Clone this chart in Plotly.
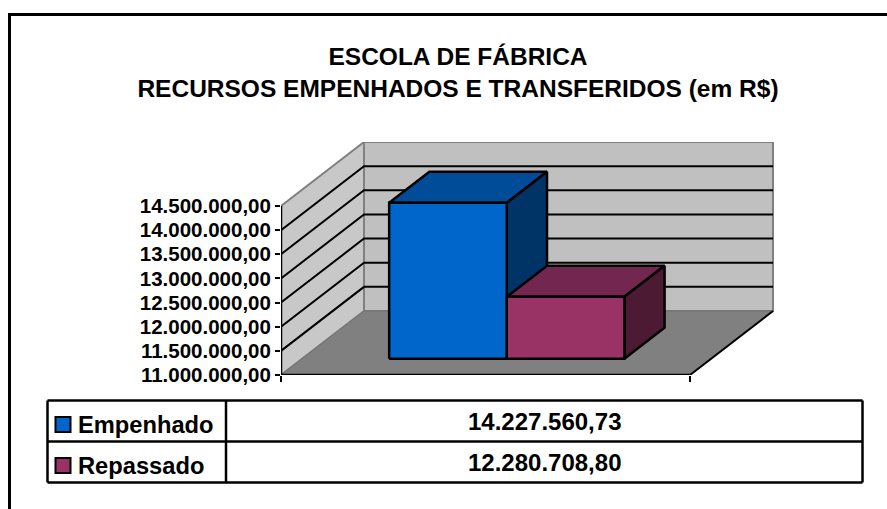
import plotly.graph_objects as go

# ---- data ----
title_lines = ["ESCOLA DE FÁBRICA", "RECURSOS EMPENHADOS E TRANSFERIDOS (em R$)"]
series_names = ["Empenhado", "Repassado"]
series_values = [14227560.73, 12280708.80]
tick_values = [11000000, 11500000, 12000000, 12500000, 13000000, 13500000, 14000000, 14500000]

# ---- style ----
W, H = 887, 509
front_colors = ["#0066CC", "#993366"]
top_colors = ["#004C99", "#732650"]
side_colors = ["#003366", "#4D1A33"]
FONT = "Liberation Sans, Arial, sans-serif"

# plot box in pixels: front-left-bottom corner to back-right-top corner
LEFT, RIGHT, TOP, BOTTOM = 281, 774, 142, 375
SLOT_PX = 409            # width of the single category
VAL_PX = 169             # height of the value range
DEPTH_X = 83 / SLOT_PX   # oblique depth, in slot units
VMIN, VMAX = tick_values[0], tick_values[-1]
DEPTH_Y = 64 / VAL_PX * (VMAX - VMIN)  # oblique depth, in value units
BAR_W = 0.2875
BAR_START = 0.2127
BAR_Z0, BAR_Z1 = 0.255, 0.74


def fmt(v):
    return f"{v:,.2f}".replace(",", "_").replace(".", ",").replace("_", ".")


def proj(slot, value, z):
    return slot + z * DEPTH_X, value + z * DEPTH_Y


def poly(points, fill=None, line="#000000", width=2.5):
    pts = [proj(*p) for p in points]
    xs = [p[0] for p in pts]
    ys = [p[1] for p in pts]
    kw = dict(fill="toself", fillcolor=fill) if fill else {}
    if fill:
        xs.append(xs[0])
        ys.append(ys[0])
    return go.Scatter(x=xs, y=ys, mode="lines", line=dict(color=line, width=width),
                      hoverinfo="skip", showlegend=False, cliponaxis=False, **kw)


fig = go.Figure()

# walls and floor
fig.add_trace(poly([(0, VMIN, 0), (0, VMAX, 0), (0, VMAX, 1), (0, VMIN, 1)], "#C8C8C8", "#808080", 2))
fig.add_trace(poly([(0, VMIN, 1), (0, VMAX, 1), (1, VMAX, 1), (1, VMIN, 1)], "#C0C0C0", "#808080", 2))
fig.add_trace(poly([(0, VMIN, 0), (1, VMIN, 0), (1, VMIN, 1), (0, VMIN, 1)], "#808080", "#707070", 1))
fig.add_trace(poly([(1, VMIN, 0), (1, VMIN, 1)], None, "#000000", 2))

# gridlines
for v in tick_values[1:-1]:
    fig.add_trace(poly([(0, v, 0), (0, v, 1), (1, v, 1)], None, "#000000", 2))

# axis lines
fig.add_trace(poly([(0, VMAX, 0), (0, VMIN, 0), (1, VMIN, 0)], None, "#000000", 2.5))

# bars
for i, v in enumerate(series_values):
    a = BAR_START + i * BAR_W
    b = a + BAR_W
    fig.add_trace(poly([(a, v, BAR_Z0), (b, v, BAR_Z0), (b, v, BAR_Z1), (a, v, BAR_Z1)], top_colors[i]))
    fig.add_trace(poly([(b, VMIN, BAR_Z0), (b, v, BAR_Z0), (b, v, BAR_Z1), (b, VMIN, BAR_Z1)], side_colors[i]))
    fig.add_trace(poly([(a, VMIN, BAR_Z0), (a, v, BAR_Z0), (b, v, BAR_Z0), (b, VMIN, BAR_Z0)], front_colors[i]))

# ---- table and frame, in page coordinates ----
px = lambda x: x / W
py = lambda y: 1 - y / H
shapes = []


def line(x0, y0, x1, y1, width=2.5):
    shapes.append(dict(type="line", xref="paper", yref="paper", x0=px(x0), y0=py(y0), x1=px(x1), y1=py(y1),
                       line=dict(color="#000000", width=width)))


line(9.5, 14.5, W, 14.5, 3)
line(9.5, 13, 9.5, H, 3)
TX0, TX1, TXC = 47.5, 862.5, 226
ROWS = [400.5, 441.5, 482.5]
for y in ROWS:
    line(TX0, y, TX1, y)
for x in (TX0, TXC, TX1):
    line(x, ROWS[0], x, ROWS[-1])

annotations = []
for i, name in enumerate(series_names):
    yc = (ROWS[i] + ROWS[i + 1]) / 2
    kc = yc + 3.5
    shapes.append(dict(type="rect", xref="paper", yref="paper", x0=px(55.5), x1=px(70.5), y0=py(kc - 7.5), y1=py(kc + 7.5),
                       fillcolor=front_colors[i], line=dict(color="#000000", width=2)))
    annotations.append(dict(xref="paper", yref="paper", x=px(76), y=py(yc + 4), text=name, showarrow=False,
                            xanchor="left", yanchor="middle", font=dict(family=FONT, size=23.7, color="#000000", weight="bold")))
    annotations.append(dict(xref="paper", yref="paper", x=px(544.5), y=py(yc), text=fmt(series_values[i]), showarrow=False,
                            xanchor="center", yanchor="middle", font=dict(family=FONT, size=24, color="#000000", weight="bold")))

fig.update_layout(
    width=W, height=H, autosize=False,
    margin=dict(l=0, r=0, t=0, b=0, pad=0, autoexpand=False),
    paper_bgcolor="#FFFFFF", plot_bgcolor="rgba(0,0,0,0)",
    showlegend=False, shapes=shapes, annotations=annotations,
    title=dict(text="<br>".join(title_lines), x=458 / W, xanchor="center", y=py(65), yanchor="middle",
               font=dict(family=FONT, size=24.5, color="#000000", weight="bold")),
    xaxis=dict(domain=[px(LEFT), px(RIGHT)], range=[0, (RIGHT - LEFT) / SLOT_PX], automargin=False,
               showgrid=False, zeroline=False, showline=False,
               tickmode="array", tickvals=[0, 1], ticktext=["", ""], ticks="outside", ticklen=6,
               tickwidth=2, tickcolor="#000000"),
    yaxis=dict(domain=[py(BOTTOM), py(TOP)], range=[VMIN, VMIN + (BOTTOM - TOP) / VAL_PX * (VMAX - VMIN)], automargin=False,
               showgrid=False, zeroline=False, showline=False,
               tickmode="array", tickvals=tick_values, ticktext=[fmt(v) for v in tick_values],
               ticks="outside", ticklen=5, tickwidth=2, tickcolor="#000000",
               tickfont=dict(family=FONT, size=20.5, color="#000000", weight="bold")),
)

fig.write_html("out.html", config=dict(displayModeBar=False, responsive=False),
               post_script="document.body.style.margin='0';document.body.style.overflow='hidden';")
